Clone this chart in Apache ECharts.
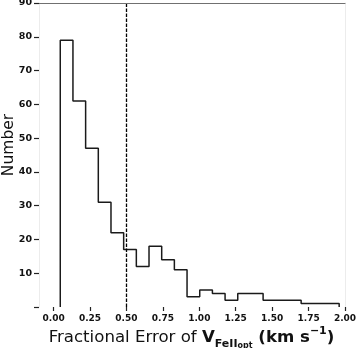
<!DOCTYPE html>
<html>
<head>
<meta charset="utf-8">
<title>Fractional error histogram</title>
<script src="https://cdn.jsdelivr.net/npm/echarts@6/dist/echarts.min.js"></script>
<style>
    html, body { margin: 0; padding: 0; background: #fff; }
    #chart { width: 357px; height: 348px; }
</style>
</head>
<body>
<div id="chart"></div>
<script>
// histogram counts (22 bins)
var counts = [79, 61, 47, 31, 22, 17, 12, 18, 14, 11, 3, 5, 4, 2, 4, 4, 2, 2, 2, 1, 1, 1];
// first bin edge and bin width, in x units
var binStart = 0.046;
var binWidth = 0.087;
// tick labels
var xTicks = [0, 0.25, 0.5, 0.75, 1.0, 1.25, 1.5, 1.75, 2.0];
var yTicks = [0, 10, 20, 30, 40, 50, 60, 70, 80, 90];
// dashed reference line
var cutValue = [0.5];

var FONT = 'DejaVu Sans';

$ready();

function $ready() {
    var myChart = echarts.init(document.getElementById('chart'), null, { renderer: 'canvas' });

    // step outline like matplotlib histtype='step'
    var outline = [[binStart, 0]];
    for (var i = 0; i < counts.length; i++) {
        var lo = binStart + i * binWidth;
        outline.push([lo, counts[i]]);
        outline.push([lo + binWidth, counts[i]]);
    }
    outline.push([binStart + counts.length * binWidth, 0]);

    var tickStyle = { color: '#222', width: 1.2 };
    var yMax = yTicks[yTicks.length - 1];

    var option = {
        animation: false,
        backgroundColor: '#fff',
        grid: { left: 39, right: 12, top: 3, bottom: 41, containLabel: false, outerBoundsMode: 'none' },
        xAxis: [{
            type: 'value',
            min: -0.1,
            max: 2.0,
            axisLine: { show: false },
            splitLine: { show: false },
            axisTick: { show: true, length: 4, lineStyle: tickStyle, customValues: xTicks },
            axisLabel: {
                customValues: xTicks,
                margin: 7,
                fontFamily: FONT,
                fontWeight: 'bold',
                fontSize: 9,
                color: '#111',
                formatter: function (v) { return v.toFixed(2); }
            }
        }, {
            // top spine
            type: 'value',
            position: 'top',
            min: -0.1,
            max: 2.0,
            axisLine: { show: true, onZero: false, lineStyle: { color: '#707070', width: 1 } },
            axisTick: { show: false },
            axisLabel: { show: false },
            splitLine: { show: false }
        }],
        yAxis: [{
            type: 'value',
            min: 0,
            max: yMax,
            interval: 10,
            axisLine: { show: true, onZero: false, lineStyle: { color: '#ececec', width: 1 } },
            splitLine: { show: false },
            axisTick: { show: true, length: 5, lineStyle: tickStyle, customValues: yTicks },
            axisLabel: {
                margin: 7,
                fontFamily: FONT,
                fontWeight: 'bold',
                fontSize: 9.5,
                color: '#111',
                formatter: function (v) { return v === 0 ? '' : String(v); }
            }
        }, {
            // faint right spine
            type: 'value',
            position: 'right',
            min: 0,
            max: yMax,
            axisLine: { show: true, onZero: false, lineStyle: { color: '#ececec', width: 1 } },
            axisTick: { show: false },
            axisLabel: { show: false },
            splitLine: { show: false }
        }],
        series: [{
            type: 'line',
            xAxisIndex: 0,
            yAxisIndex: 0,
            data: outline,
            symbol: 'none',
            lineStyle: { color: '#1a1a1a', width: 1.5 },
            silent: true,
            markLine: {
                silent: true,
                symbol: 'none',
                label: { show: false },
                lineStyle: { color: '#000', width: 1.3, type: [3.5, 1.5] },
                data: cutValue.map(function (v) { return { xAxis: v }; })
            }
        }, {
            // top frame line at the axis max
            type: 'line',
            xAxisIndex: 1,
            yAxisIndex: 1,
            data: [],
            silent: true,
            markLine: {
                silent: true,
                symbol: 'none',
                label: { show: false },
                lineStyle: { color: '#707070', width: 1, type: 'solid' },
                data: [{ yAxis: yMax }]
            }
        }],
        graphic: [{
            type: 'text',
            x: 9,
            y: 145,
            rotation: Math.PI / 2,
            style: {
                text: 'Number',
                fontFamily: FONT,
                fontSize: 15.5,
                fill: '#111',
                align: 'center',
                verticalAlign: 'middle'
            }
        }, {
            type: 'text',
            x: 191.5,
            y: 337.5,
            style: {
                text: '{n|Fractional Error of }{b|V}{s|FeII}{ss|opt}{b| (km s}{sup|\u22121}{b|)}',
                fill: '#111',
                align: 'center',
                verticalAlign: 'middle',
                rich: {
                    n: { fontFamily: FONT, fontSize: 16.6, lineHeight: 24, verticalAlign: 'middle', fill: '#111' },
                    b: { fontFamily: FONT, fontSize: 16.6, fontWeight: 'bold', lineHeight: 24, verticalAlign: 'middle', fill: '#111' },
                    s: { fontFamily: FONT, fontSize: 11, fontWeight: 'bold', lineHeight: 16, verticalAlign: 'bottom', fill: '#111' },
                    ss: { fontFamily: FONT, fontSize: 8, fontWeight: 'bold', lineHeight: 10, verticalAlign: 'bottom', fill: '#111' },
                    sup: { fontFamily: FONT, fontSize: 11, fontWeight: 'bold', lineHeight: 18, verticalAlign: 'top', fill: '#111' }
                }
            }
        }]
    };
    myChart.setOption(option);
}
</script>
</body>
</html>
